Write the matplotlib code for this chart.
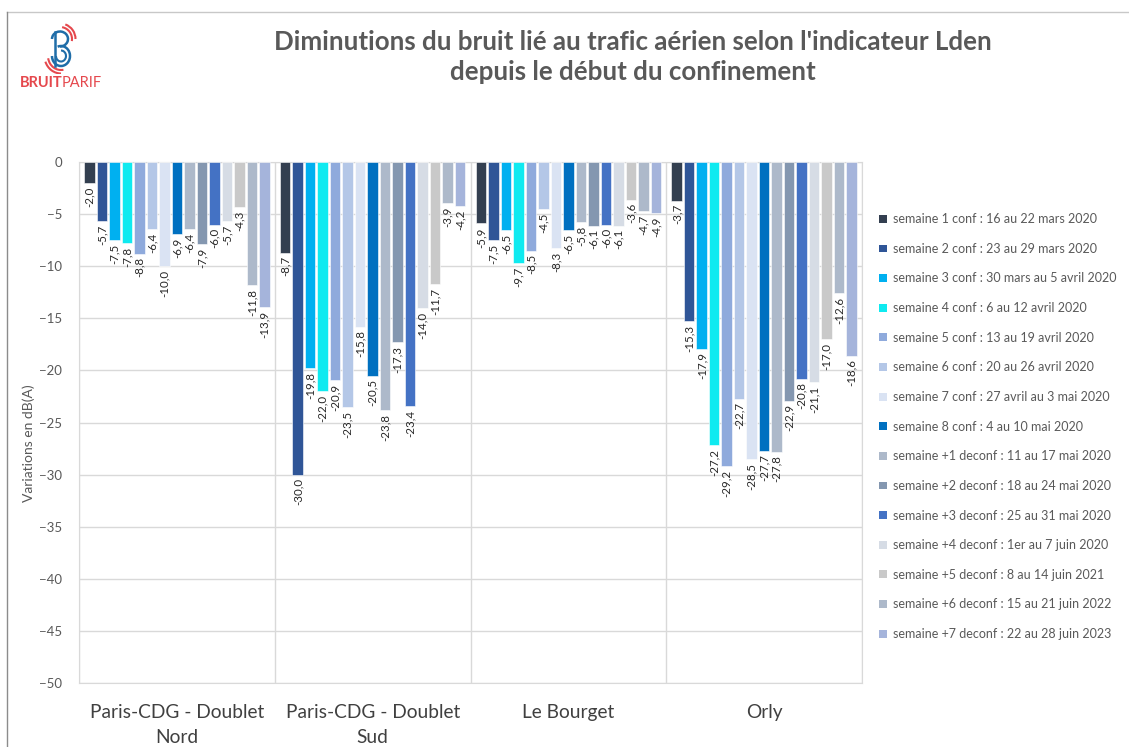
import numpy as np
import matplotlib
matplotlib.use("Agg")
import matplotlib.pyplot as plt
from matplotlib.patches import Patch, Arc
from matplotlib.lines import Line2D

plt.rcParams['font.family'] = ['Lato', 'DejaVu Sans']

# Data
sites = ["Paris-CDG - Doublet\nNord", "Paris-CDG - Doublet\nSud", "Le Bourget", "Orly"]
weeks = [
    "semaine 1 conf : 16 au 22 mars 2020",
    "semaine 2 conf : 23 au 29 mars 2020",
    "semaine 3 conf : 30 mars au 5 avril 2020",
    "semaine 4 conf : 6 au 12 avril 2020",
    "semaine 5 conf : 13 au 19 avril 2020",
    "semaine 6 conf : 20 au 26 avril 2020",
    "semaine 7 conf : 27 avril au 3 mai 2020",
    "semaine 8 conf : 4 au 10 mai 2020",
    "semaine +1 deconf : 11 au 17 mai 2020",
    "semaine +2 deconf : 18 au 24 mai 2020",
    "semaine +3 deconf : 25 au 31 mai 2020",
    "semaine +4 deconf : 1er au 7 juin 2020",
    "semaine +5 deconf : 8 au 14 juin 2021",
    "semaine +6 deconf : 15 au 21 juin 2022",
    "semaine +7 deconf : 22 au 28 juin 2023",
]
cdg_nord = [-2.0, -5.7, -7.5, -7.8, -8.8, -6.4, -10.0, -6.9, -6.4, -7.9, -6.0, -5.7, -4.3, -11.8, -13.9]
cdg_sud = [-8.7, -30.0, -19.8, -22.0, -20.9, -23.5, -15.8, -20.5, -23.8, -17.3, -23.4, -14.0, -11.7, -3.9, -4.2]
bourget = [-5.9, -7.5, -6.5, -9.7, -8.5, -4.5, -8.3, -6.5, -5.8, -6.1, -6.0, -6.1, -3.6, -4.7, -4.9]
orly = [-3.7, -15.3, -17.9, -27.2, -29.2, -22.7, -28.5, -27.7, -27.8, -22.9, -20.8, -21.1, -17.0, -12.6, -18.6]

colors = ["#333F50", "#2F5597", "#00B0F0", "#0FEAF0", "#8FAADC", "#B4C7E7", "#DAE3F3",
          "#0070C0", "#ADB9CA", "#8497B0", "#4472C4", "#D6DCE5", "#C9C9C9", "#ADB9CA", "#A5B4DB"]

values = np.array([cdg_nord, cdg_sud, bourget, orly])  # site x week

W, H = 1129, 747
fig = plt.figure(figsize=(W / 100, H / 100), dpi=100)
ax = fig.add_axes([79 / W, 1 - 683 / H, (862 - 79) / W, (683 - 162) / H])

n = len(weeks)
pitch = 12.5 / 196
width = 10.5 / 196
centers = np.arange(len(sites)) + 0.5
for k in range(n):
    xs = centers + (k - (n - 1) / 2) * pitch
    ax.bar(xs, values[:, k], width=width, color=colors[k], edgecolor="white",
           linewidth=0.4, zorder=3)
    for x, v in zip(xs, values[:, k]):
        ax.text(x, v - 0.35, f"{v:.1f}".replace(".", ","), rotation=90,
                ha="center", va="top", fontsize=8.3, color="#262626", zorder=4)

ax.set_xlim(0, 4)
ax.set_ylim(-50, 0)
ax.set_yticks(np.arange(-50, 1, 5))
ax.set_xticks(centers)
ax.set_xticklabels(sites, fontsize=13.8, color="#404040", linespacing=1.6)
ax.set_xticks(np.arange(0, 5), minor=True)
ax.tick_params(axis="x", which="both", length=0, pad=15)
ax.tick_params(axis="y", length=0, pad=12, labelsize=9.5, labelcolor="#595959")
ax.grid(axis="y", color="#D9D9D9", linewidth=1, zorder=0)
ax.grid(axis="x", which="minor", color="#D9D9D9", linewidth=1, zorder=0)
ax.grid(axis="x", which="major", visible=False)
for s in ax.spines.values():
    s.set_color("#D9D9D9")
ax.set_axisbelow(True)
ax.set_ylabel("Variations en dB(A)", fontsize=10, color="#595959")
ax.yaxis.set_label_coords(-0.056, 0.46)

# Legend
handles = [Patch(facecolor=c, edgecolor="none") for c in colors]
fig.legend(handles, weeks, loc="upper left", bbox_to_anchor=(873 / W, 1 - 207 / H),
           frameon=False, fontsize=9, labelcolor="#595959", handlelength=0.6,
           handleheight=0.6, handletextpad=0.5, labelspacing=1.41, borderpad=0)

# Title
fig.text(633 / W, 1 - 57 / H,
         "Diminutions du bruit lié au trafic aérien selon l'indicateur Lden\ndepuis le début du confinement",
         ha="center", va="center", fontsize=18.6, fontweight="bold", color="#595959",
         linespacing=1.25)

# Chart border (top and left)
fig.add_artist(Line2D([7 / W, 1], [1 - 12 / H] * 2, transform=fig.transFigure,
                      color="#C8C8C8", linewidth=1))
fig.add_artist(Line2D([7 / W] * 2, [0, 1 - 12 / H], transform=fig.transFigure,
                      color="#8C8C8C", linewidth=1))

# Logo
lax = fig.add_axes([38 / W, 1 - 74 / H, 48 / W, 52 / H])
lax.set_xlim(0, 48)
lax.set_ylim(0, 52)
lax.set_aspect("equal")
lax.axis("off")
blue = "#1F6DA8"
red = "#E5484D"
lax.plot([17, 17], [8, 42], color=blue, lw=1.8)
lax.add_patch(Arc((22, 35), 16, 15, theta1=-90, theta2=180, color=blue, lw=1.8))
lax.add_patch(Arc((23, 18), 18, 20, theta1=-180, theta2=110, color=blue, lw=1.8))
lax.add_patch(Arc((23, 18), 10, 11, theta1=-180, theta2=90, color=blue, lw=1.5))
lax.add_patch(Arc((22, 35), 24, 24, theta1=-10, theta2=80, color=red, lw=1.5))
lax.add_patch(Arc((22, 35), 31, 31, theta1=0, theta2=70, color=red, lw=1.5))
lax.add_patch(Arc((23, 18), 26, 28, theta1=190, theta2=280, color=red, lw=1.5))
lax.add_patch(Arc((23, 18), 33, 35, theta1=200, theta2=270, color=red, lw=1.5))
fig.text(20 / W, 1 - 83 / H, "BRUIT", fontsize=10.5, fontweight="bold", color=red,
         ha="left", va="center")
fig.text(62 / W, 1 - 83 / H, "PARIF", fontsize=10.5, color=red, ha="left", va="center")

fig.savefig("out.png", dpi=100)
